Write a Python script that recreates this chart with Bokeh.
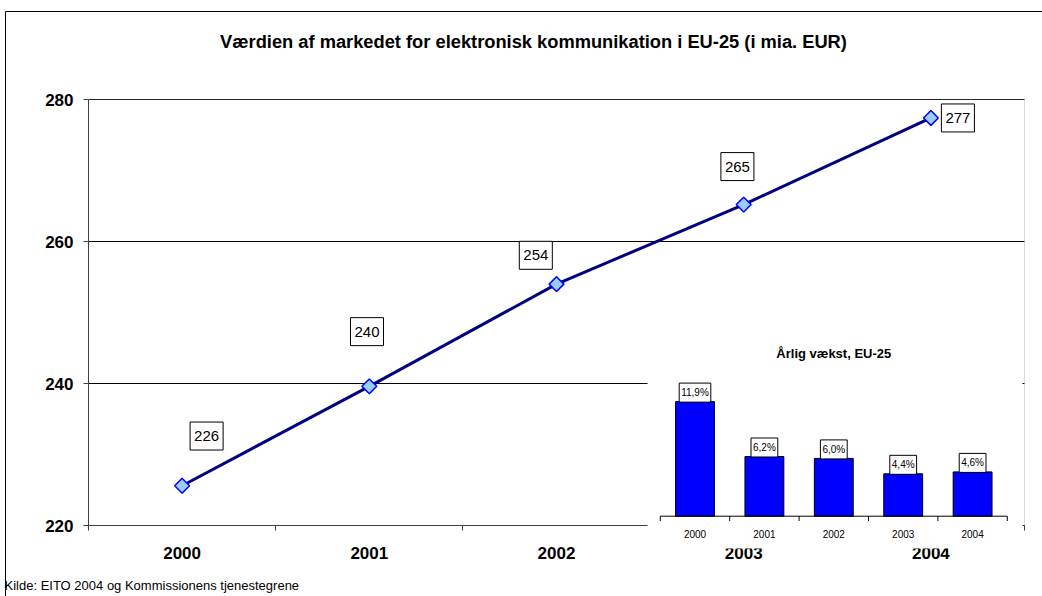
import numpy as np
from bokeh.plotting import figure
from bokeh.core.properties import value
from bokeh.models import (ColumnDataSource, FixedTicker, Range1d, Label, BoxAnnotation)
from bokeh.embed import file_html
from bokeh.resources import INLINE

# ---------------- data ----------------
years = ["2000", "2001", "2002", "2003", "2004"]
market_value = [225.6, 239.6, 254.0, 265.2, 277.4]
market_labels = ["226", "240", "254", "265", "277"]
growth = [11.9, 6.2, 6.0, 4.4, 4.6]
growth_labels = ["11,9%", "6,2%", "6,0%", "4,4%", "4,6%"]
y_ticks = [220, 240, 260, 280]

TITLE = "Værdien af markedet for elektronisk kommunikation i EU-25 (i mia. EUR)"
INSET_TITLE = "Årlig vækst, EU-25"
SOURCE = "Kilde: EITO 2004 og Kommissionens tjenestegrene"

# ---------------- styles / layout ----------------
FONT = "Liberation Sans"
label_dx = [24.5, -2.3, -20.7, -6.3, 27.0]
label_dy = [-49.7, -54.7, -28.8, -38.0, 0.0]

W, H = 1042, 596
FL, FR, FT, FB = 88, 1024, 99, 525          # main plot area edges in px
n = len(years)
x_idx = list(range(n))
XMIN, XMAX = -0.5, n - 0.5
YMIN, YMAX = y_ticks[0], y_ticks[-1]
ux = (FR - FL) / (XMAX - XMIN)              # px per category
uy = (FB - FT) / (YMAX - YMIN)              # px per unit


def sx(px):
    return XMIN + (px - FL) / ux


def sy(py):
    return YMIN + (FB - py) / uy


p = figure(width=W, height=H, output_backend="svg", toolbar_location=None,
           x_range=Range1d(sx(0), sx(W)), y_range=Range1d(sy(H), sy(0)),
           min_border_left=0, min_border_right=0, min_border_top=0, min_border_bottom=0)
p.background_fill_color = "white"
p.border_fill_color = "white"
p.outline_line_color = None

# outer chart border (only left and top edges fall inside the page)
p.quad(left=[sx(5)], right=[sx(W + 5)], top=[sy(11)], bottom=[sy(H + 5)],
       fill_color=None, line_color="black", line_width=1, level="underlay")

# plot-area border (grey)
p.add_layout(BoxAnnotation(left=XMIN, right=XMAX, bottom=YMIN, top=YMAX,
                           fill_alpha=0, line_color="#808080", line_width=1,
                           level="underlay"))

# y axis
p.yaxis.fixed_location = XMIN
p.yaxis.bounds = (YMIN, YMAX)
p.yaxis.ticker = FixedTicker(ticks=y_ticks)
p.yaxis.major_tick_out = 5
p.yaxis.major_tick_in = 0
p.yaxis.minor_tick_line_color = None
p.yaxis.axis_line_color = "#404040"
p.yaxis.major_tick_line_color = "#404040"
p.yaxis.major_label_text_font = FONT
p.yaxis.major_label_text_font_style = "bold"
p.yaxis.major_label_text_font_size = "17px"
p.yaxis.major_label_text_color = "black"
p.yaxis.major_label_standoff = 10

# x axis: tick marks between categories; category names drawn below as text
p.xaxis.fixed_location = YMIN
p.xaxis.bounds = (XMIN, XMAX)
p.xaxis.ticker = FixedTicker(ticks=x_idx, minor_ticks=[i - 0.5 for i in range(n + 1)])
p.xaxis.major_label_overrides = {i: "" for i in x_idx}
p.xaxis.major_tick_out = 0
p.xaxis.major_tick_in = 0
p.xaxis.minor_tick_out = 5
p.xaxis.minor_tick_in = 0
p.xaxis.axis_line_color = "#404040"
p.xaxis.minor_tick_line_color = "#404040"

# horizontal gridlines, limited to the plot area
p.xgrid.grid_line_color = None
p.ygrid.grid_line_color = None
p.segment(x0=[XMIN] * len(y_ticks), x1=[XMAX] * len(y_ticks), y0=y_ticks, y1=y_ticks,
          line_color="black", line_width=1, level="underlay")

# main series
src = ColumnDataSource(dict(x=x_idx, y=market_value, lab=market_labels,
                            dx=label_dx, dy=label_dy, yr=years, base=[YMIN] * n))
p.text(x="x", y="base", text="yr", source=src, y_offset=27,
       text_align="center", text_baseline="middle",
       text_font=value(FONT), text_font_style="bold", text_font_size="17px",
       text_color="black")
p.line("x", "y", source=src, line_color="#000080", line_width=3)
p.scatter("x", "y", source=src, marker="square", angle=np.pi / 4, size=10.5,
          fill_color="#99CCFF", line_color="#0000FF", line_width=1.5)
p.text(x="x", y="y", text="lab", source=src, x_offset="dx", y_offset="dy",
       text_align="center", text_baseline="middle",
       text_font=value(FONT), text_font_size="15px", text_color="black",
       background_fill_color="white", border_line_color="black",
       border_line_width=1, padding=dict(x=4, y=9))

# title and source
p.add_layout(Label(x=sx(533), y=sy(41), text=TITLE,
                   text_align="center", text_baseline="middle", text_font=FONT,
                   text_font_style="bold", text_font_size="18.3px", text_color="black"))
p.add_layout(Label(x=sx(4), y=sy(585), text=SOURCE,
                   text_align="left", text_baseline="middle", text_font=FONT,
                   text_font_size="13px", text_color="black"))

# ---------------- inset: annual growth ----------------
inset_cat_px = 69.4          # px per inset category
inset_x0_px = 694.5          # px of first inset category centre
inset_base_px = 515.7        # px of inset zero line
inset_px_per_pct = 9.63
p.extra_x_ranges = {"inset": Range1d(-inset_x0_px / inset_cat_px,
                                     (W - inset_x0_px) / inset_cat_px)}
p.extra_y_ranges = {"inset": Range1d(-(H - inset_base_px) / inset_px_per_pct,
                                     inset_base_px / inset_px_per_pct)}

# inset background, drawn over the main chart
p.quad(left=[sx(647)], right=[sx(1022)], top=[sy(330)], bottom=[sy(548)],
       fill_color="white", line_color=None, level="annotation")

isrc = ColumnDataSource(dict(x=x_idx, g=growth, lab=growth_labels, yr=years,
                             zero=[0] * n))
p.vbar(x="x", top="g", bottom=0, width=0.56, source=isrc,
       x_range_name="inset", y_range_name="inset",
       fill_color="#0000FF", line_color="black", line_width=1, level="overlay")

bounds = [i - 0.5 for i in range(n + 1)]
p.segment(x0=[bounds[0]], y0=[0], x1=[bounds[-1]], y1=[0],
          x_range_name="inset", y_range_name="inset",
          line_color="black", line_width=1, level="overlay")
p.segment(x0=bounds, y0=[0] * len(bounds), x1=bounds, y1=[-0.5] * len(bounds),
          x_range_name="inset", y_range_name="inset",
          line_color="black", line_width=1, level="overlay")

p.text(x="x", y="g", text="lab", source=isrc, y_offset=-9,
       x_range_name="inset", y_range_name="inset",
       text_align="center", text_baseline="middle",
       text_font=value(FONT), text_font_size="10px", text_color="black",
       background_fill_color="white", border_line_color="black",
       border_line_width=1, padding=dict(x=2, y=4), level="overlay")
p.text(x="x", y="zero", text="yr", source=isrc, y_offset=17.5,
       x_range_name="inset", y_range_name="inset",
       text_align="center", text_baseline="middle",
       text_font=value(FONT), text_font_size="10px", text_color="black",
       level="overlay")
p.add_layout(Label(x=(n - 1) / 2, y=(inset_base_px - 353) / inset_px_per_pct,
                   x_range_name="inset", y_range_name="inset",
                   text=INSET_TITLE, text_align="center", text_baseline="middle",
                   text_font=FONT, text_font_style="bold", text_font_size="13px",
                   text_color="black", level="overlay"))

open("out.html", "w").write(file_html(p, INLINE))
